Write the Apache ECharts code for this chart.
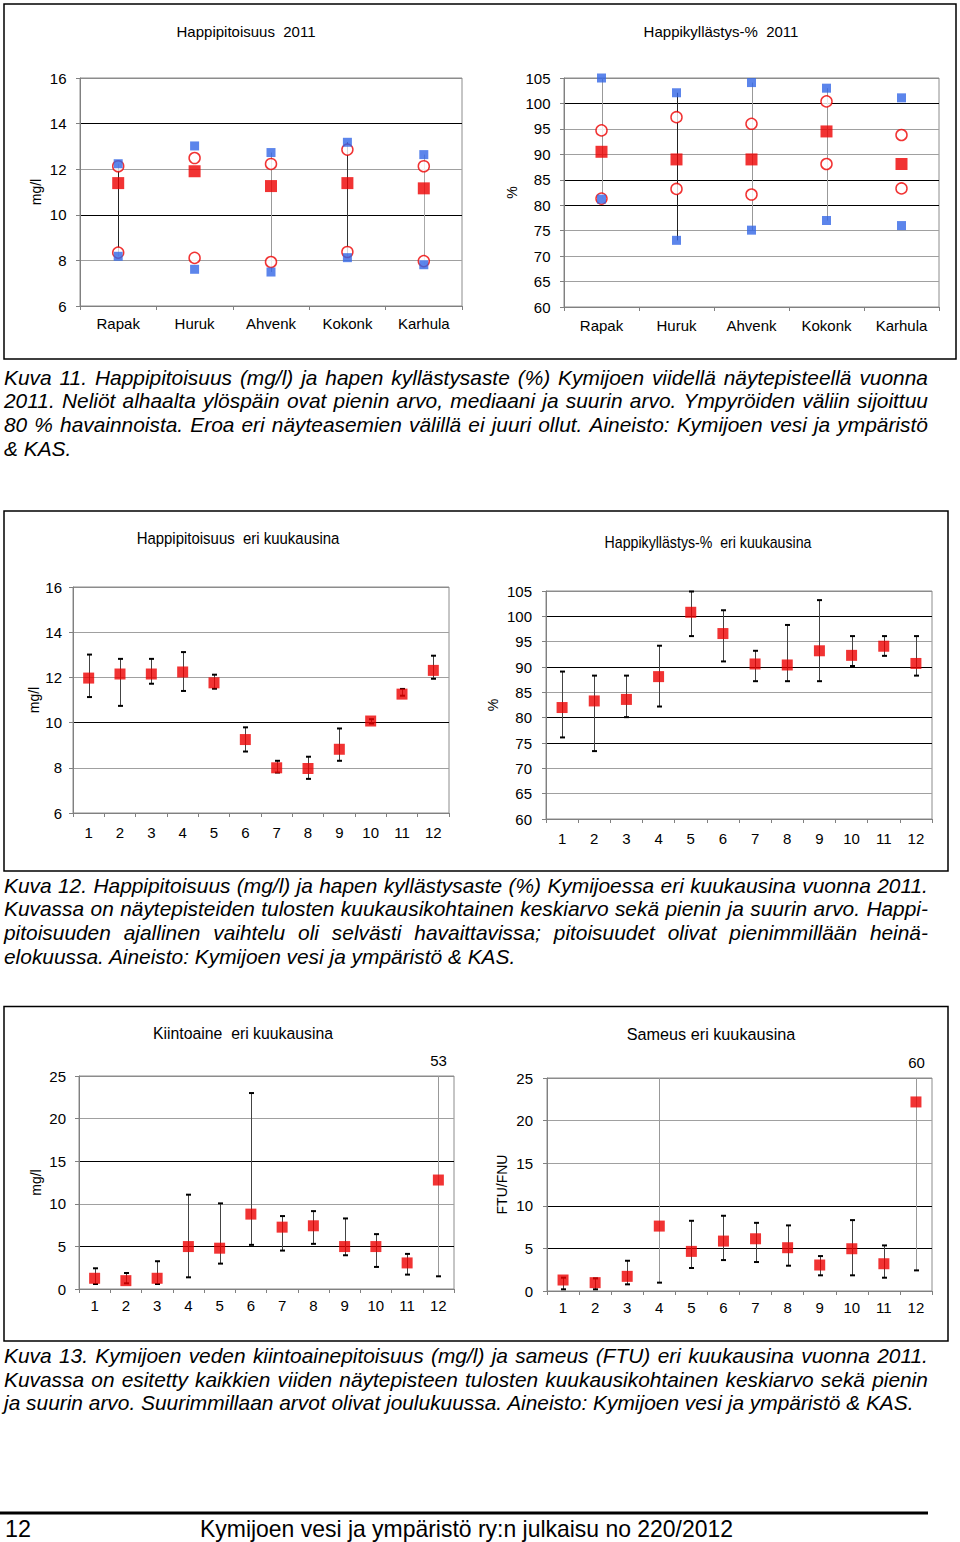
<!DOCTYPE html>
<html><head><meta charset="utf-8">
<script src="https://cdn.jsdelivr.net/npm/echarts@6/dist/echarts.min.js"></script>
<style>
html,body{margin:0;padding:0;background:#fff;}
#page{position:relative;width:960px;height:1542px;overflow:hidden;background:#fff;}
#chart{position:absolute;left:0;top:0;width:960px;height:1542px;}
.cap{position:absolute;left:4px;width:924px;height:24px;line-height:24px;font-family:'Liberation Sans',Arial,Helvetica,sans-serif;font-style:italic;font-size:20.9px;color:#000;white-space:nowrap;}
.cap.j{display:flex;justify-content:space-between;}
.foot{position:absolute;font-family:'Liberation Sans Narrow','Liberation Sans',Arial,sans-serif;font-size:24px;line-height:24px;height:24px;white-space:nowrap;transform-origin:0 0;color:#000;}
</style></head>
<body>
<div id="page"><div id="chart"></div></div>
<script>
// ---------- DATA ----------
const stations = ['Rapak', 'Huruk', 'Ahvenk', 'Kokonk', 'Karhula'];
// Happipitoisuus 2011 (mg/l)
const o2Min = [8.18, 7.61, 7.49, 8.12, 7.81];
const o2P10 = [8.34, 8.11, 7.93, 8.37, 7.97];
const o2Med = [11.39, 11.91, 11.26, 11.39, 11.16];
const o2P90 = [12.13, 12.49, 12.23, 12.86, 12.13];
const o2Max = [12.24, 13.02, 12.73, 13.18, 12.64];
// Happikyllästys-% 2011
const satMin = [81.2, 73.1, 75.1, 77.0, 76.0];
const satP10 = [81.3, 83.2, 82.1, 88.1, 83.3];
const satMed = [90.5, 89.0, 89.0, 94.5, 88.1];
const satP90 = [94.7, 97.3, 96.0, 100.4, 93.8];
const satMax = [105.0, 102.1, 104.1, 103.0, 101.1];

const months = ['1', '2', '3', '4', '5', '6', '7', '8', '9', '10', '11', '12'];
// Happipitoisuus eri kuukausina
const mO2Mean = [11.97, 12.15, 12.15, 12.24, 11.76, 9.25, 8.00, 7.97, 8.82, 10.07, 11.26, 12.31];
const mO2Min  = [11.13, 10.74, 11.72, 11.40, 11.50, 8.72, 7.79, 7.51, 8.31, 9.96, 11.19, 11.94];
const mO2Max  = [13.01, 12.82, 12.82, 13.12, 12.12, 9.79, 8.31, 8.49, 9.74, 10.15, 11.49, 12.96];
// Happikyllästys-% eri kuukausina
const mSatMean = [82.0, 83.3, 83.6, 88.1, 100.8, 96.6, 90.6, 90.4, 93.2, 92.3, 94.1, 90.7];
const mSatMin  = [76.1, 73.4, 80.1, 82.2, 96.1, 91.1, 87.2, 87.2, 87.2, 90.2, 92.2, 88.3];
const mSatMax  = [89.1, 88.3, 88.3, 94.2, 104.9, 101.2, 93.2, 98.3, 103.2, 96.1, 96.1, 96.1];
// Kiintoaine eri kuukausina (mg/l)
const kiMean = [1.26, 0.98, 1.26, 4.98, 4.79, 8.79, 7.26, 7.42, 4.98, 4.98, 3.06, 12.79];
const kiMin  = [0.59, 0.67, 0.59, 1.37, 2.98, 5.18, 4.51, 5.30, 3.96, 2.59, 1.69, 1.49];
const kiMax  = [2.43, 1.88, 3.26, 11.07, 10.05, 23.0, 8.56, 9.14, 8.28, 6.44, 4.12, 53];
// Sameus eri kuukausina (FTU/FNU)
const saMean = [1.29, 0.98, 1.72, 7.62, 4.65, 5.86, 6.13, 5.08, 3.05, 4.96, 3.20, 22.19];
const saMin  = [0.20, 0.20, 0.78, 0.98, 2.70, 3.63, 3.40, 2.97, 1.84, 1.84, 1.56, 2.42];
const saMax  = [1.56, 1.48, 3.55, 25, 8.24, 8.83, 8.00, 7.70, 4.10, 8.32, 5.35, 60];

// Texts
const caption11 = [
  'Kuva 11. Happipitoisuus (mg/l) ja hapen kyllästysaste (%) Kymijoen viidellä näytepisteellä vuonna',
  '2011. Neliöt alhaalta ylöspäin ovat pienin arvo, mediaani ja suurin arvo. Ympyröiden väliin sijoittuu',
  '80 % havainnoista. Eroa eri näyteasemien välillä ei juuri ollut. Aineisto: Kymijoen vesi ja ympäristö',
  '& KAS.'
];
const caption12 = [
  'Kuva 12. Happipitoisuus (mg/l) ja hapen kyllästysaste (%) Kymijoessa eri kuukausina vuonna 2011.',
  'Kuvassa on näytepisteiden tulosten kuukausikohtainen keskiarvo sekä pienin ja suurin arvo. Happi-',
  'pitoisuuden ajallinen vaihtelu oli selvästi havaittavissa; pitoisuudet olivat pienimmillään heinä-',
  'elokuussa. Aineisto: Kymijoen vesi ja ympäristö & KAS.'
];
const caption13 = [
  'Kuva 13. Kymijoen veden kiintoainepitoisuus (mg/l) ja sameus (FTU) eri kuukausina vuonna 2011.',
  'Kuvassa on esitetty kaikkien viiden näytepisteen tulosten kuukausikohtainen keskiarvo sekä pienin',
  'ja suurin arvo. Suurimmillaan arvot olivat joulukuussa. Aineisto: Kymijoen vesi ja ympäristö & KAS.'
];
const footerPage = '12';
const footerText = 'Kymijoen vesi ja ympäristö ry:n julkaisu no 220/2012';

// ---------- STYLE / LAYOUT ----------
const FONT = "'Liberation Sans', Arial, Helvetica, sans-serif";
const RED = '#ee0000';
const BLUE = '#3366e6';
const AX = '#808080';
const G = '#a0a0a0', K = '#000000', B = '#8c8c8c';
const rangeLineColors1 = ['#222', 'rgba(0,0,0,0)', '#999', '#333', '#aaa'];
const rangeLineColors2 = ['#999', '#222', '#999', '#999', 'rgba(0,0,0,0)'];

function grid(l, t, w, h) {
  return { left: l, top: t, width: w, height: h, show: true, borderColor: B, borderWidth: 1,
           backgroundColor: 'transparent', containLabel: false, outerBoundsMode: 'none' };
}
function catAxis(g, data, margin) {
  return { type: 'category', gridIndex: g, data: data, boundaryGap: true,
    axisLine: { show: true, lineStyle: { color: AX, width: 1 } },
    axisTick: { show: true, length: 4, alignWithLabel: false, lineStyle: { color: AX } },
    axisLabel: { interval: 0, margin: margin, color: '#000', fontSize: 15, fontFamily: FONT },
    splitLine: { show: false } };
}
function valAxis(g, min, max, step, name, nameGap, lblMargin, colors) {
  return { type: 'value', gridIndex: g, min: min, max: max, interval: step,
    axisLine: { show: true, lineStyle: { color: AX, width: 1 } },
    axisTick: { show: true, length: 4, inside: false, lineStyle: { color: AX } },
    axisLabel: { margin: lblMargin, color: '#000', fontSize: 15, fontFamily: FONT },
    splitLine: { show: true, lineStyle: { color: colors, width: 1 } },
    name: name, nameLocation: 'middle', nameRotate: 90, nameGap: nameGap,
    nameTextStyle: { color: '#000', fontSize: 14, fontFamily: FONT } };
}

function rangeSeries(g, minArr, maxArr, colors) {
  return { type: 'custom', xAxisIndex: g, yAxisIndex: g, silent: true,
    data: minArr.map((v, i) => [i, v, maxArr[i]]),
    renderItem: function (params, api) {
      const a = api.coord([api.value(0), api.value(1)]);
      const b = api.coord([api.value(0), api.value(2)]);
      const x = Math.round(a[0]) + 0.5;
      return { type: 'line', shape: { x1: x, y1: a[1], x2: x, y2: b[1] },
               style: { stroke: colors[params.dataIndex], lineWidth: 1 } };
    } };
}
function errorSeries(g, minArr, maxArr, axisMax) {
  return { type: 'custom', xAxisIndex: g, yAxisIndex: g, silent: true, clip: false,
    data: minArr.map((v, i) => [i, v, maxArr[i]]),
    renderItem: function (params, api) {
      const i = api.value(0), lo = api.value(1), hi = api.value(2);
      const a = api.coord([i, lo]);
      const b = api.coord([i, Math.min(hi, axisMax)]);
      const x = Math.round(a[0]) + 0.5;
      const off = hi >= axisMax;
      const ch = [
        { type: 'line', shape: { x1: x, y1: a[1], x2: x, y2: b[1] },
          style: { stroke: off ? '#999' : '#444', lineWidth: 1 } },
        { type: 'line', shape: { x1: x - 2.5, y1: a[1], x2: x + 2.5, y2: a[1] },
          style: { stroke: '#000', lineWidth: 2 } }
      ];
      if (hi < axisMax) {
        ch.push({ type: 'line', shape: { x1: x - 2.5, y1: b[1], x2: x + 2.5, y2: b[1] },
                  style: { stroke: '#000', lineWidth: 2 } });
      }
      if (hi > axisMax) {
        ch.push({ type: 'text', style: { x: x, y: b[1] - 16, text: String(hi), fill: '#000',
                  fontSize: 15, fontFamily: FONT, align: 'center', verticalAlign: 'middle' } });
      }
      return { type: 'group', children: ch };
    } };
}
function scat(g, data, symbol, size, style) {
  return { type: 'scatter', xAxisIndex: g, yAxisIndex: g, data: data, symbol: symbol,
           symbolSize: size, itemStyle: style, clip: false, silent: true };
}
function title(x, y, text, size, sx) {
  return { type: 'text', x: x, y: y, scaleX: sx, silent: true,
           style: { text: text, fill: '#000', fontSize: size, fontFamily: FONT,
                    align: 'center', verticalAlign: 'middle' } };
}

const circleStyle = { color: '#ffffff', borderColor: RED, borderWidth: 1.5 };
const medStyle = { color: RED };
const blueStyle = { color: BLUE };

const option = {
  backgroundColor: '#fff',
  animation: false,
  grid: [
    grid(80, 78, 382, 228),
    grid(564, 78, 375, 229),
    grid(73, 587, 376, 226),
    grid(546, 591, 386, 228),
    grid(79, 1076, 375, 213),
    grid(547, 1078, 385, 213)
  ],
  xAxis: [
    catAxis(0, stations, 10),
    catAxis(1, stations, 11),
    catAxis(2, months, 12),
    catAxis(3, months, 11.5),
    catAxis(4, months, 9),
    catAxis(5, months, 9)
  ],
  yAxis: [
    valAxis(0, 6, 16, 2, 'mg/l', 37, 13.5, [AX, G, K, G, K, B]),
    valAxis(1, 60, 105, 5, '%', 45, 13.5, [AX, G, G, G, K, K, G, G, K, B]),
    valAxis(2, 6, 16, 2, 'mg/l', 30, 11, [AX, G, K, G, G, B]),
    valAxis(3, 60, 105, 5, '%', 46, 14, [AX, G, G, K, K, G, K, G, K, B]),
    valAxis(4, 0, 25, 5, 'mg/l', 36, 13, [AX, K, G, K, G, B]),
    valAxis(5, 0, 25, 5, 'FTU/FNU', 38, 14, [AX, K, K, G, G, B])
  ],
  series: [
    rangeSeries(0, o2Min, o2Max, rangeLineColors1),
    scat(0, o2P10, 'circle', 11, circleStyle),
    scat(0, o2P90, 'circle', 11, circleStyle),
    scat(0, o2Min, 'rect', 9, blueStyle),
    scat(0, o2Max, 'rect', 9, blueStyle),
    scat(0, o2Med, 'rect', 12, medStyle),

    rangeSeries(1, satMin, satMax, rangeLineColors2),
    scat(1, satP10, 'circle', 11, circleStyle),
    scat(1, satP90, 'circle', 11, circleStyle),
    scat(1, satMin, 'rect', 9, blueStyle),
    scat(1, satMax, 'rect', 9, blueStyle),
    scat(1, satMed, 'rect', 12, medStyle),

    errorSeries(2, mO2Min, mO2Max, 16),
    scat(2, mO2Mean, 'rect', 11, medStyle),
    errorSeries(3, mSatMin, mSatMax, 105),
    scat(3, mSatMean, 'rect', 11, medStyle),
    errorSeries(4, kiMin, kiMax, 25),
    scat(4, kiMean, 'rect', 11, medStyle),
    errorSeries(5, saMin, saMax, 25),
    scat(5, saMean, 'rect', 11, medStyle)
  ],
  graphic: [
    { type: 'rect', silent: true, shape: { x: 4, y: 4, width: 952, height: 355 },
      style: { fill: 'none', stroke: '#000', lineWidth: 1.5 } },
    { type: 'rect', silent: true, shape: { x: 4, y: 511, width: 944, height: 360 },
      style: { fill: 'none', stroke: '#000', lineWidth: 1.5 } },
    { type: 'rect', silent: true, shape: { x: 4, y: 1006.5, width: 944, height: 334.5 },
      style: { fill: 'none', stroke: '#000', lineWidth: 1.5 } },
    { type: 'rect', silent: true, shape: { x: 0, y: 1511.5, width: 928, height: 3 },
      style: { fill: '#000' } },
    title(246, 31, 'Happipitoisuus  2011', 15, 1),
    title(721, 31, 'Happikyllästys-%  2011', 15, 1),
    title(238, 538, 'Happipitoisuus  eri kuukausina', 17, 0.88),
    title(708, 542, 'Happikyllästys-%  eri kuukausina', 16, 0.885),
    title(243, 1033, 'Kiintoaine  eri kuukausina', 17, 0.93),
    title(711, 1034, 'Sameus eri kuukausina', 17, 0.955)
  ]
};

const chart = echarts.init(document.getElementById('chart'), null, { renderer: 'svg', width: 960, height: 1542 });
chart.setOption(option);

// ---------- HTML text (captions, footer) ----------
const page = document.getElementById('page');
function addCaption(lines, tops) {
  lines.forEach(function (t, i) {
    const d = document.createElement('div');
    const last = i === lines.length - 1;
    d.className = 'cap' + (last ? '' : ' j');
    d.style.top = tops[i] + 'px';
    if (last) { d.textContent = t; }
    else {
      t.split(' ').forEach(function (w) {
        const s = document.createElement('span'); s.textContent = w; d.appendChild(s);
      });
    }
    page.appendChild(d);
  });
}
addCaption(caption11, [365.5, 389.2, 412.9, 436.6]);
addCaption(caption12, [873.8, 897.4, 921.0, 944.6]);
addCaption(caption13, [1344.0, 1367.6, 1391.2]);

function footText(text, left, targetW) {
  const d = document.createElement('div');
  d.className = 'foot';
  d.textContent = text;
  d.style.left = left + 'px';
  d.style.top = '1516.5px';
  page.appendChild(d);
  const w = d.getBoundingClientRect().width;
  if (w > 0) d.style.transform = 'scaleX(' + (targetW / w) + ')';
}
footText(footerPage, 5, 26);
footText(footerText, 200, 533);
</script>
</body></html>
